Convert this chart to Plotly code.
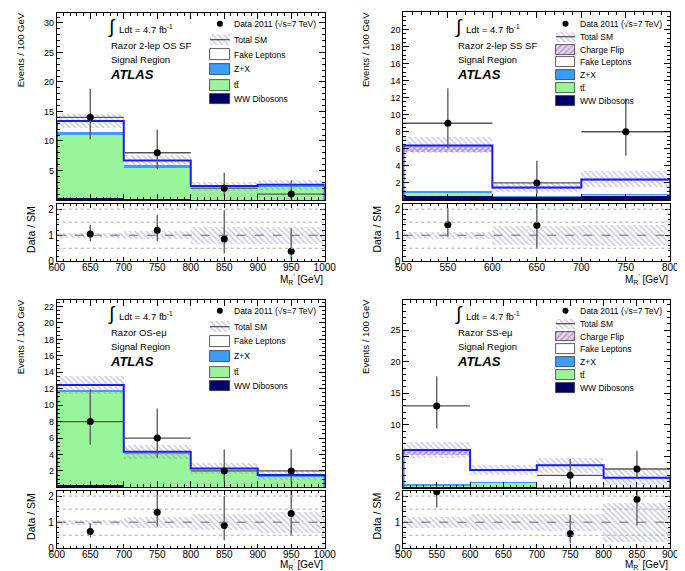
import numpy as np
import plotly.graph_objects as go

# ---------------- data ----------------
# Panel A: Razor 2-lep OS SF
A_edges = [600, 700, 800, 900, 1000]
A_ww = [0.3, 0.2, 0.05, 0.05]
A_tt = [10.8, 5.2, 2.05, 2.3]
A_zx = [0.5, 0.6, 0.1, 0.1]
A_fake = [1.8, 0.7, 0.15, 0.15]
A_relerr = [0.09, 0.15, 0.33, 0.33]
A_data = [14, 8, 2, 1]
A_data_up = [4.8, 3.9, 2.6, 2.3]
A_data_dn = [3.7, 2.8, 1.3, 0.8]

# Panel B: Razor 2-lep SS SF
B_edges = [500, 600, 700, 800]
B_ww = [0.45, 0.3, 0.5]
B_tt = [0.4, 0.05, 0.05]
B_zx = [0.2, 0.05, 0.05]
B_fake = [4.55, 0.8, 1.6]
B_cf = [0.8, 0.25, 0.2]
B_relerr = [0.14, 0.36, 0.4]
B_data = [9, 2, 8]
B_data_up = [4.1, 2.6, 3.9]
B_data_dn = [2.9, 1.3, 2.8]

# Panel C: Razor OS-e mu
C_edges = [600, 700, 800, 900, 1000]
C_ww = [0.35, 0.05, 0.03, 0.03]
C_tt = [11.3, 4.1, 2.1, 1.35]
C_zx = [0.2, 0.1, 0.05, 0.05]
C_fake = [0.6, 0.1, 0.12, 0.07]
C_relerr = [0.09, 0.2, 0.3, 0.4]
C_data = [8, 6, 2, 2]
C_data_up = [3.9, 3.6, 2.6, 2.6]
C_data_dn = [2.8, 2.4, 1.3, 1.3]

# Panel D: Razor SS-e mu
D_edges = [500, 600, 700, 800, 900]
D_ww = [0.25, 0.1, 0.1, 0.1]
D_tt = [0.05, 0.75, 0.05, 0.05]
D_zx = [0.35, 0.05, 0.05, 0.05]
D_fake = [4.65, 1.85, 3.3, 1.3]
D_cf = [0.7, 0.1, 0.1, 0.1]
D_relerr = [0.22, 0.3, 0.33, 0.75]
D_data = [13, None, 2, 3]
D_data_up = [4.7, 0, 2.6, 2.9]
D_data_dn = [3.6, 0, 1.3, 1.6]

region_labels = ["Razor 2-lep OS SF", "Razor 2-lep SS SF", "Razor OS-eμ", "Razor SS-eμ"]
x_ticks_A = [600, 650, 700, 750, 800, 850, 900, 950, 1000]
x_ticks_B = [500, 550, 600, 650, 700, 750, 800]
x_ticks_D = [500, 550, 600, 650, 700, 750, 800, 850, 900]

# ---------------- styles ----------------
FONT = "Liberation Sans, Arial, Helvetica, sans-serif"
C_WW = "#000066"
C_TT = "#99f599"
C_ZX = "#3b9dff"
C_FAKE = "#ffffff"
C_CF_FG = "#8a48a8"
C_CF_BG = "#e6d6ee"
C_BAND = "#8a8ac6"
C_LINE = "#1a1aff"
C_ERR = "#555555"
TRANSP = "rgba(0,0,0,0)"

W, H = 685, 571

band_pat = dict(shape="\\", fgcolor=C_BAND, bgcolor=TRANSP, fillmode="overlay", size=4, solidity=0.35)
cf_pat = dict(shape="/", fgcolor=C_CF_FG, bgcolor=C_CF_BG, fillmode="overlay", size=4, solidity=0.35)

panels = [
    dict(edges=A_edges, stack=[A_ww, A_tt, A_zx, A_fake], cf=None, rel=A_relerr,
         data=A_data, up=A_data_up, dn=A_data_dn, ymax=31.7, dtick=5, minor=1,
         xt=x_ticks_A, xd=[42, 318], ym=[5, 194], yr=[198, 256]),
    dict(edges=B_edges, stack=[B_ww, B_tt, B_zx, B_fake], cf=B_cf, rel=B_relerr,
         data=B_data, up=B_data_up, dn=B_data_dn, ymax=22, dtick=2, minor=0.5,
         xt=x_ticks_B, xd=[399, 674], ym=[4.5, 194], yr=[198, 256]),
    dict(edges=C_edges, stack=[C_ww, C_tt, C_zx, C_fake], cf=None, rel=C_relerr,
         data=C_data, up=C_data_up, dn=C_data_dn, ymax=22.8, dtick=2, minor=0.5,
         xt=x_ticks_A, xd=[42, 318], ym=[295, 484.5], yr=[488, 546]),
    dict(edges=D_edges, stack=[D_ww, D_tt, D_zx, D_fake], cf=D_cf, rel=D_relerr,
         data=D_data, up=D_data_up, dn=D_data_dn, ymax=29.8, dtick=5, minor=1,
         xt=x_ticks_D, xd=[399, 674], ym=[295, 485], yr=[488, 546]),
]

fig = go.Figure()
layout = dict(width=W, height=H, margin=dict(l=0, r=0, t=0, b=0),
              paper_bgcolor="white", plot_bgcolor=TRANSP,
              showlegend=False, barmode="overlay", bargap=0,
              font=dict(family=FONT, color="black"))
shapes = []
annotations = []

def px_dom_x(a):
    return [a[0] / W, a[1] / W]

def px_dom_y(a):
    return [1 - a[1] / H, 1 - a[0] / H]

def axis_common():
    return dict(showline=True, linecolor="black", linewidth=1, mirror="allticks",
                ticks="inside", ticklen=6, tickcolor="black", showgrid=False,
                zeroline=False, tickfont=dict(family=FONT, size=10, color="black"))

for i, p in enumerate(panels):
    mi = i + 1          # main axes index
    ri = i + 5          # ratio axes index
    xm, ym_ = f"x{mi}", f"y{mi}"
    xr, yr_ = f"x{ri}", f"y{ri}"
    edges = np.array(p["edges"], float)
    centers = 0.5 * (edges[:-1] + edges[1:])
    widths = np.diff(edges)
    comps = [np.array(c, float) for c in p["stack"]]
    cols = [C_WW, C_TT, C_ZX, C_FAKE]
    base = np.zeros(len(centers))
    for c, col in zip(comps, cols):
        fig.add_trace(go.Bar(x=centers, y=c, base=base, width=widths, marker=dict(color=col, line=dict(width=0)),
                             xaxis=xm, yaxis=ym_, hoverinfo="skip"))
        base = base + c
    if p["cf"] is not None:
        cf = np.array(p["cf"], float)
        fig.add_trace(go.Bar(x=centers, y=cf, base=base, width=widths,
                             marker=dict(color=C_CF_BG, line=dict(width=0), pattern=cf_pat),
                             xaxis=xm, yaxis=ym_, hoverinfo="skip"))
        base = base + cf
    total = base
    rel = np.array(p["rel"], float)
    err = total * rel
    # uncertainty band
    fig.add_trace(go.Bar(x=centers, y=2 * err, base=total - err, width=widths,
                         marker=dict(color=TRANSP, line=dict(width=0), pattern=band_pat),
                         xaxis=xm, yaxis=ym_, hoverinfo="skip"))
    # stack outline
    sx = np.repeat(edges, 2)
    sy = np.concatenate([[0], np.repeat(total, 2), [0]])
    fig.add_trace(go.Scatter(x=sx, y=sy, mode="lines", line=dict(color=C_LINE, width=2),
                             xaxis=xm, yaxis=ym_, hoverinfo="skip"))
    # data
    data = np.array([np.nan if v is None else v for v in p["data"]], float)
    up = np.array(p["up"], float)
    dn = np.array(p["dn"], float)
    fig.add_trace(go.Scatter(x=centers, y=data, mode="markers",
                             marker=dict(color="black", size=7),
                             error_y=dict(type="data", array=up, arrayminus=dn, color=C_ERR, thickness=1.3, width=0),
                             error_x=dict(type="data", array=widths / 2, color=C_ERR, thickness=1.3, width=0),
                             xaxis=xm, yaxis=ym_, hoverinfo="skip"))
    # ratio band
    fig.add_trace(go.Bar(x=centers, y=2 * rel, base=1 - rel, width=widths,
                         marker=dict(color=TRANSP, line=dict(width=0), pattern=band_pat),
                         xaxis=xr, yaxis=yr_, hoverinfo="skip"))
    ratio = data / total
    fig.add_trace(go.Scatter(x=centers, y=ratio, mode="markers",
                             marker=dict(color="black", size=7),
                             error_y=dict(type="data", array=up / total, arrayminus=dn / total,
                                          color=C_ERR, thickness=1.3, width=0),
                             xaxis=xr, yaxis=yr_, hoverinfo="skip"))
    # ratio reference lines
    for lv, dash, col in [(0.5, "dot", "#aaaaaa"), (1.0, "dash", "#666666"), (1.5, "dot", "#aaaaaa"), (2.0, "dot", "#aaaaaa")]:
        shapes.append(dict(type="line", xref=f"{xr} domain", yref=yr_, x0=0, x1=1, y0=lv, y1=lv,
                           line=dict(color=col, width=1, dash=dash), layer="above"))

    xrange_ = [edges[0], edges[-1]]
    yt = [v for v in np.arange(p["dtick"], p["ymax"], p["dtick"])]
    ax = axis_common()
    layout[f"xaxis{mi}"] = dict(ax, domain=px_dom_x(p["xd"]), range=xrange_, anchor=ym_,
                                tickvals=p["xt"], showticklabels=False,
                                minor=dict(dtick=10, ticks="inside", ticklen=3, tickcolor="black"))
    layout[f"yaxis{mi}"] = dict(ax, domain=px_dom_y(p["ym"]), range=[0, p["ymax"]], anchor=xm,
                                tickvals=yt, tickfont=dict(family=FONT, size=9, color="black"),
                                minor=dict(dtick=p["minor"], ticks="inside", ticklen=3, tickcolor="black"))
    layout[f"xaxis{ri}"] = dict(ax, domain=px_dom_x(p["xd"]), range=xrange_, anchor=yr_,
                                tickvals=p["xt"], ticklen=4, ticklabelstandoff=-3,
                                minor=dict(dtick=10, ticks="inside", ticklen=2, tickcolor="black"))
    layout[f"yaxis{ri}"] = dict(ax, domain=px_dom_y(p["yr"]), range=[0, 2.2], anchor=xr,
                                tickvals=[0, 1, 2], ticklen=5,
                                minor=dict(dtick=0.2, ticks="inside", ticklen=2.5, tickcolor="black"))

# ---------------- overlay (pixel) axis for legends and texts ----------------
layout["xaxis9"] = dict(domain=[0, 1], range=[0, W], visible=False, anchor="y9", fixedrange=True)
layout["yaxis9"] = dict(domain=[0, 1], range=[H, 0], visible=False, anchor="x9", fixedrange=True)

def box(x0, x1, y0, y1, color, line_col="#333333", lw=0.8, pattern=None):
    m = dict(color=color, line=dict(color=line_col, width=lw))
    if pattern is not None:
        m["pattern"] = pattern
    fig.add_trace(go.Bar(x=[(x0 + x1) / 2], y=[y1 - y0], base=[y0], width=[x1 - x0], marker=m,
                         xaxis="x9", yaxis="y9", hoverinfo="skip"))

def text(x, y, s, size=9, xanchor="left", yanchor="middle", angle=0):
    annotations.append(dict(xref="x9", yref="y9", x=x, y=y, text=s, showarrow=False,
                            xanchor=xanchor, yanchor=yanchor, textangle=angle,
                            font=dict(family=FONT, size=size, color="black")))

offsets = [(0, 0), (357, 0), (0, 290), (357, 290)]
for i, (ox, oy) in enumerate(offsets):
    right = i in (1, 3)
    # info texts
    text(93 + ox, 19 + oy, "∫", size=19, xanchor="left")
    text(104 + ox, 21 + oy, "Ldt = 4.7 fb<sup>-1</sup>", size=9.5)
    text(96 + ox, 38 + oy, region_labels[i], size=9.5)
    text(96 + ox, 52 + oy, "Signal Region", size=9.5)
    text(95 + ox, 67 + oy, "<b><i>ATLAS</i></b>", size=13)
    # legend
    if right:
        bx0, bx1, tx = 199 + ox, 219 + ox, 222 + ox
        ys = [16, 29, 42, 55, 68, 81, 94]
        labels = ["Data 2011 (√s=7 TeV)", "Total SM", "Charge Flip", "Fake Leptons", "Z+X", "tt̄", "WW Dibosons"]
        kinds = ["data", "band", "cf", "fake", "zx", "tt", "ww"]
        hh = 5
    else:
        bx0, bx1, tx = 200 + ox, 220 + ox, 222 + ox
        ys = [16, 32, 47, 62, 78, 92]
        labels = ["Data 2011 (√s=7 TeV)", "Total SM", "Fake Leptons", "Z+X", "tt̄", "WW Dibosons"]
        kinds = ["data", "band", "fake", "zx", "tt", "ww"]
        hh = 5.5
    for y, lab, k in zip(ys, labels, kinds):
        yy = y + oy
        if k == "data":
            fig.add_trace(go.Scatter(x=[(bx0 + bx1) / 2], y=[yy], mode="markers",
                                     marker=dict(color="black", size=6), xaxis="x9", yaxis="y9", hoverinfo="skip"))
        elif k == "band":
            box(bx0, bx1, yy - hh, yy + hh, TRANSP, lw=0, pattern=band_pat)
            fig.add_trace(go.Scatter(x=[bx0, bx1], y=[yy, yy], mode="lines", line=dict(color="#555555", width=1.3),
                                     xaxis="x9", yaxis="y9", hoverinfo="skip"))
        elif k == "cf":
            box(bx0, bx1, yy - hh, yy + hh, C_CF_BG, pattern=cf_pat)
        elif k == "fake":
            box(bx0, bx1, yy - hh, yy + hh, C_FAKE)
        elif k == "zx":
            box(bx0, bx1, yy - hh, yy + hh, C_ZX)
        elif k == "tt":
            box(bx0, bx1, yy - hh, yy + hh, C_TT)
        elif k == "ww":
            box(bx0, bx1, yy - hh, yy + hh, C_WW)
        text(tx, yy, lab, size=8.5)
    # axis titles
    ytx = (5 if not right else 360)
    text(ytx, 2 + oy, "Events / 100 GeV", size=9.5, xanchor="center", yanchor="top", angle=-90)
    rtx = (16 if not right else 372)
    text(rtx, 198 + oy, "Data / SM", size=10.5, xanchor="center", yanchor="top", angle=-90)
    xr_edge = 318 if not right else 674
    text(xr_edge, 274 + oy - (2 if oy else 0), "M<sub>R</sub><sup>'</sup> [GeV]", size=10, xanchor="right", yanchor="middle")

layout["shapes"] = shapes
layout["annotations"] = annotations
fig.update_layout(**layout)
fig.write_html("out.html")
